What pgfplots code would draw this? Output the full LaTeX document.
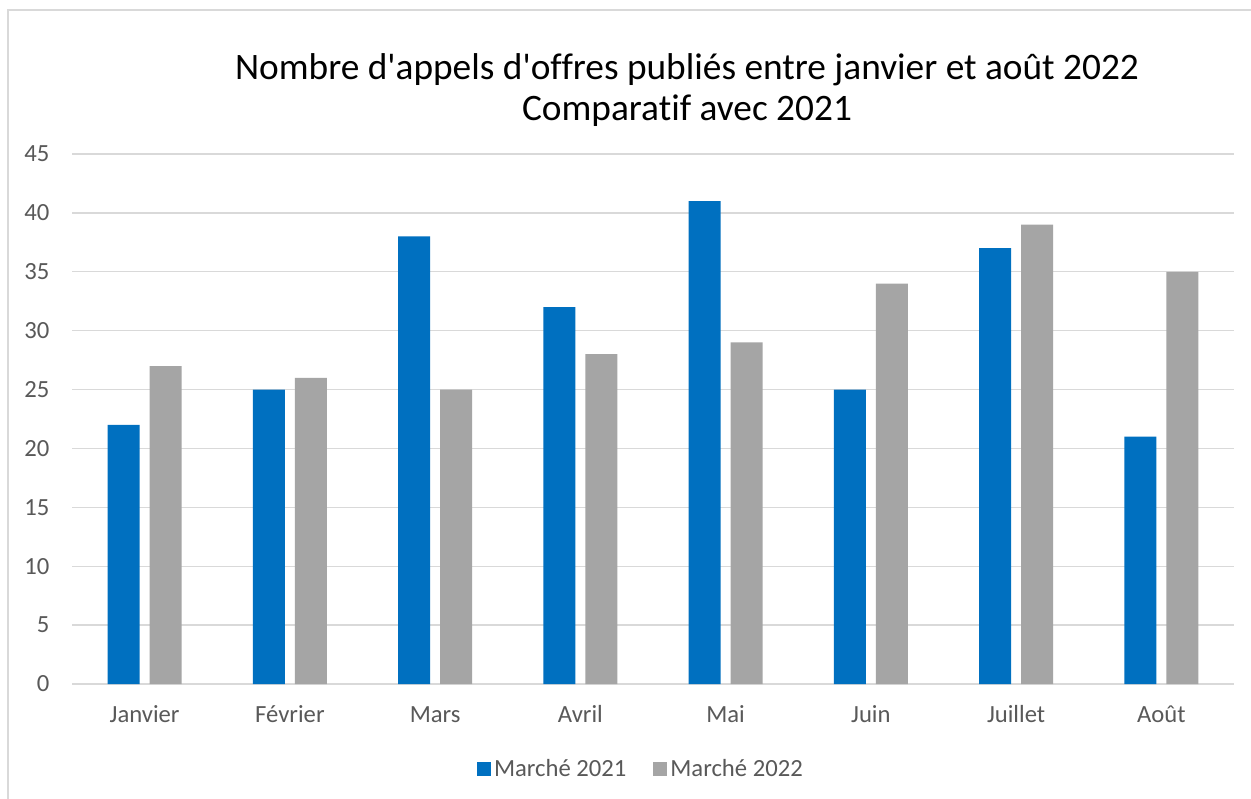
\documentclass[border=0pt]{standalone}
\usepackage{pgfplots}
\pgfplotsset{compat=1.18}
\usepackage{fontspec}
\setmainfont{Carlito}[Ligatures={NoCommon,TeXOff}]
\definecolor{cblue}{HTML}{0070C0}
\definecolor{cgray}{HTML}{A5A5A5}
\definecolor{ctext}{HTML}{595959}
\definecolor{cgrid}{HTML}{D9D9D9}
\begin{document}
\begin{tikzpicture}[x=0.6bp,y=0.6bp]
\path[use as bounding box] (0,0) rectangle (1251,799);
\fill[white] (0,0) rectangle (1251,799);
\draw[cgrid,line width=1.2bp] (8,-30) -- (8,789) -- (1280,789);
\node[font=\fontsize{22.4bp}{26bp}\selectfont,text=black] at (687,729) {Nombre d'appels d'offres publiés entre janvier et août 2022};
\node[font=\fontsize{22.4bp}{26bp}\selectfont,text=black] at (687,688) {Comparatif avec 2021};
\begin{axis}[
  at={(43.2bp,69bp)}, anchor=south west,
  scale only axis, width=697.2bp, height=318bp,
  xmin=-0.5, xmax=7.5, ymin=0, ymax=45,
  ytick={0,5,...,45},
  xtick={0,...,7},
  xticklabels={Janvier,Février,Mars,Avril,Mai,Juin,Juillet,Août},
  major tick length=0pt,
  ymajorgrids, grid style={cgrid,line width=0.8bp},
  axis line style={draw=none},
  axis x line*=bottom,
  x axis line style={draw=cgrid,line width=1.2bp},
  separate axis lines,
  tick label style={font=\fontsize{14.8bp}{17bp}\selectfont,text=ctext},
  /pgf/number format/assume math mode=true,
  yticklabel style={xshift=-10bp},
  xticklabel style={yshift=-9.4bp,text depth=0pt,text height=10bp},
  legend style={at={(0.49,-0.16)},anchor=center,draw=none,fill=none,
    legend columns=2,font=\fontsize{14.8bp}{17bp}\selectfont,text=ctext,
    /tikz/every even column/.append style={column sep=14bp}},
  legend image code/.code={\fill[#1] (0.6bp,-4.2bp) rectangle (9bp,4.2bp);},
]
\addplot[ybar, bar width=0.22, bar shift=-0.145, fill=cblue, draw=none] coordinates {(0,22) (1,25) (2,38) (3,32) (4,41) (5,25) (6,37) (7,21)};
\addlegendentry{Marché 2021}
\addplot[ybar, bar width=0.22, bar shift=0.145, fill=cgray, draw=none] coordinates {(0,27) (1,26) (2,25) (3,28) (4,29) (5,34) (6,39) (7,35)};
\addlegendentry{Marché 2022}
\end{axis}
\end{tikzpicture}
\end{document}
